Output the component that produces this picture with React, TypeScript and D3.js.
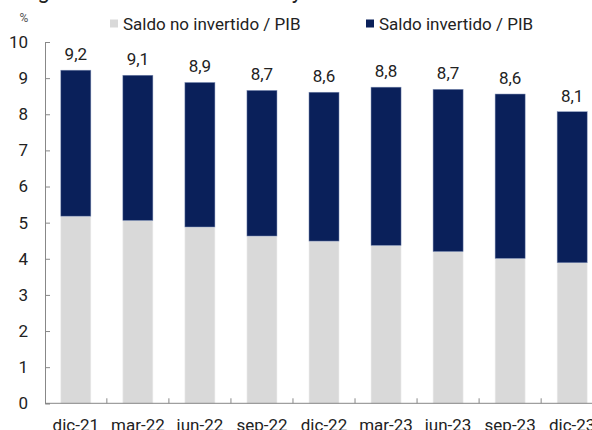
import * as d3 from "d3";
import { useEffect, useRef } from "react";

const categories = ["dic-21", "mar-22", "jun-22", "sep-22", "dic-22", "mar-23", "jun-23", "sep-23", "dic-23"];
const saldoNoInvertido = [5.18, 5.06, 4.88, 4.63, 4.49, 4.37, 4.2, 4.01, 3.89];
const saldoTotal = [9.22, 9.08, 8.88, 8.66, 8.61, 8.75, 8.69, 8.56, 8.07];
const totalLabels = ["9,2", "9,1", "8,9", "8,7", "8,6", "8,8", "8,7", "8,6", "8,1"];
const yTicks = [0, 1, 2, 3, 4, 5, 6, 7, 8, 9, 10];
const seriesNames = ["Saldo no invertido / PIB", "Saldo invertido / PIB"];

const GRAY = "#d9d9d9";
const NAVY = "#0a205a";
const FONT = "Roboto, sans-serif";

export default function App() {
  const ref = useRef<SVGSVGElement>(null);

  useEffect(() => {
    const width = 592;
    const marginLeft = 45;
    const step = 62;

    const svg = d3.select(ref.current);
    svg.selectAll("*").remove();

    const x = d3.scaleBand()
      .domain(categories)
      .range([marginLeft, marginLeft + step * categories.length])
      .paddingInner(0.516)
      .paddingOuter(0.255);

    const y = d3.scaleLinear().domain([0, 10]).range([403.3, 42]);

    // title, mostly cut off by the top edge
    svg.append("text")
      .attr("x", 20)
      .attr("y", -2)
      .attr("font-family", FONT)
      .attr("font-size", 22)
      .attr("fill", "#222")
      .text("Figura 5. Saldo no invertido y invertido sobre el PIB");

    svg.append("text")
      .attr("x", 24)
      .attr("y", 22)
      .attr("text-anchor", "middle")
      .attr("font-family", FONT)
      .attr("font-size", 12)
      .attr("fill", "#555")
      .text("%");

    // legend
    const legendX = [110, 366];
    const legend = svg.append("g");
    seriesNames.forEach((name, i) => {
      legend.append("rect")
        .attr("x", legendX[i])
        .attr("y", 19.5)
        .attr("width", 8)
        .attr("height", 8)
        .attr("fill", i === 0 ? GRAY : NAVY);
      legend.append("text")
        .attr("x", legendX[i] + 13)
        .attr("y", 29.5)
        .attr("font-family", FONT)
        .attr("font-size", 17)
        .attr("fill", "#222")
        .text(name);
    });

    // bars
    const rows = categories.map((c, i) => ({ c, base: saldoNoInvertido[i], total: saldoTotal[i], label: totalLabels[i] }));
    const bars = svg.append("g");
    bars.selectAll("rect.no")
      .data(rows)
      .join("rect")
      .attr("class", "no")
      .attr("x", d => x(d.c)!)
      .attr("width", x.bandwidth())
      .attr("y", d => y(d.base))
      .attr("height", d => y(0) - y(d.base))
      .attr("fill", GRAY)
      .attr("stroke", "#eeeeee")
      .attr("stroke-width", 0.6);
    bars.selectAll("rect.inv")
      .data(rows)
      .join("rect")
      .attr("class", "inv")
      .attr("x", d => x(d.c)!)
      .attr("width", x.bandwidth())
      .attr("y", d => y(d.total))
      .attr("height", d => y(d.base) - y(d.total))
      .attr("fill", NAVY)
      .attr("stroke", "#7f8fb5")
      .attr("stroke-width", 0.5);

    svg.append("g")
      .selectAll("text")
      .data(rows)
      .join("text")
      .attr("x", d => x(d.c)! + x.bandwidth() / 2)
      .attr("y", d => y(d.total) - 10)
      .attr("text-anchor", "middle")
      .attr("font-family", FONT)
      .attr("font-size", 17)
      .attr("fill", "#222")
      .text(d => d.label);

    // y axis
    const yAxis = svg.append("g")
      .attr("transform", `translate(${marginLeft},0)`)
      .call(d3.axisLeft(y).tickValues(yTicks).tickFormat(d3.format("d")).tickSizeInner(-5).tickSizeOuter(-5).tickPadding(17));
    yAxis.selectAll("path, line").attr("stroke", "#888");
    yAxis.selectAll("text")
      .attr("font-family", FONT)
      .attr("font-size", 17)
      .attr("fill", "#222");

    // x axis: labels at centers, ticks at band boundaries
    const xAxis = svg.append("g")
      .attr("transform", `translate(0,${y(0)})`)
      .call(d3.axisBottom(x).tickSize(0).tickPadding(16));
    xAxis.select("path.domain").remove();
    xAxis.selectAll("text")
      .attr("font-family", FONT)
      .attr("font-size", 17)
      .attr("fill", "#222");

    svg.append("line")
      .attr("x1", marginLeft)
      .attr("x2", width)
      .attr("y1", y(0))
      .attr("y2", y(0))
      .attr("stroke", "#888");
    svg.append("g")
      .selectAll("line")
      .data(categories.slice(0, -1))
      .join("line")
      .attr("x1", d => x(d)! + x.bandwidth() + (x.step() - x.bandwidth()) / 2)
      .attr("x2", d => x(d)! + x.bandwidth() + (x.step() - x.bandwidth()) / 2)
      .attr("y1", y(0))
      .attr("y2", y(0) - 5)
      .attr("stroke", "#888");
  }, []);

  return (
    <>
      <style>{`body{margin:0}`}</style>
      <svg ref={ref} width={592} height={430} style={{ display: "block", background: "#fff" }} />
    </>
  );
}
